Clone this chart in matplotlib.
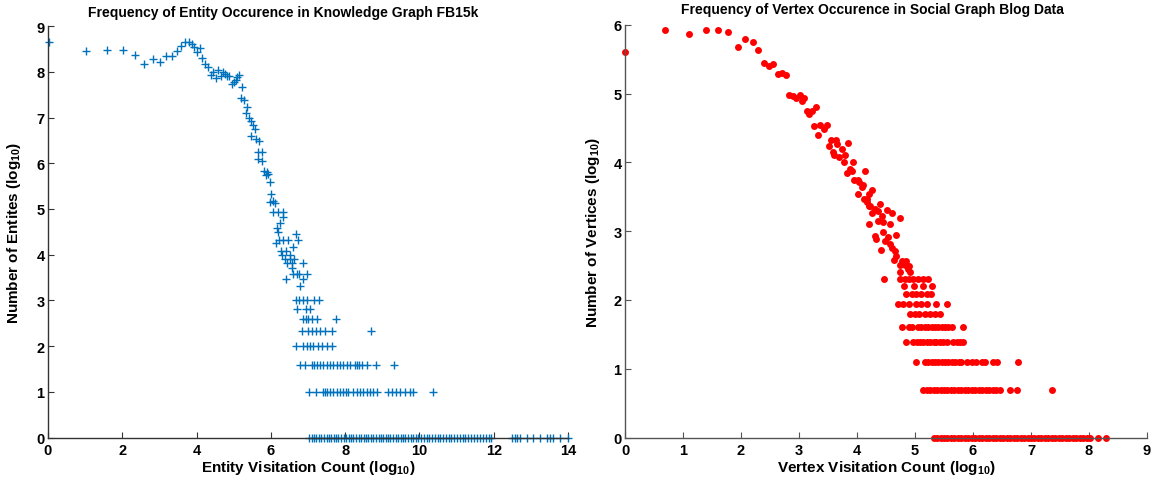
import matplotlib
matplotlib.use("Agg")
import matplotlib.pyplot as plt

plt.rcParams['font.family'] = ['Liberation Sans', 'DejaVu Sans']
plt.rcParams['font.weight'] = 'bold'
plt.rcParams['mathtext.fontset'] = 'custom'
plt.rcParams['mathtext.bf'] = 'Liberation Sans:bold'
plt.rcParams['mathtext.rm'] = 'Liberation Sans:bold'
plt.rcParams['mathtext.default'] = 'bf'

# ---------------- Left chart: FB15k (entities) ----------------
left_title = "Frequency of Entity Occurence in Knowledge Graph FB15k"
left_xlabel = r"Entity Visitation Count (log$_{10}$)"
left_ylabel = r"Number of Entites (log$_{10}$)"
left_xticks = [0, 2, 4, 6, 8, 10, 12, 14]
left_yticks = [0, 1, 2, 3, 4, 5, 6, 7, 8, 9]

# head of the distribution (distinct counts)
ent_curve_x = [0.03, 1.01, 1.60, 2.01, 2.33, 2.59, 2.82, 3.02, 3.17, 3.33, 3.46, 3.59, 3.70,
               3.79, 3.87, 3.94, 4.02, 4.10, 4.15, 4.24, 4.30, 4.38, 4.43, 4.52, 4.59, 4.66,
               4.70, 4.77, 4.81, 4.88, 4.95, 5.01, 5.05, 5.10, 5.15, 5.21, 5.20, 5.28, 5.37,
               5.32, 5.40, 5.46, 5.51, 5.57, 5.47, 5.60, 5.68, 5.66, 5.75, 5.66, 5.75, 5.82,
               5.89, 5.93, 5.87, 5.98, 6.00, 6.05, 5.98, 6.11, 6.07, 6.20, 6.34,
               6.32, 6.25, 6.16, 6.18, 6.68, 6.23, 6.34, 6.47, 6.14, 6.74, 6.60, 6.27, 6.42,
               6.29, 6.52, 6.38, 6.52, 6.61, 6.44, 6.58, 6.86, 6.56, 6.60, 6.70, 6.77, 6.97,
               6.41, 6.87, 6.79]
ent_curve_y = [8.65, 8.46, 8.47, 8.47, 8.38, 8.17, 8.29, 8.21, 8.34, 8.34, 8.45, 8.57, 8.66,
               8.65, 8.60, 8.54, 8.43, 8.52, 8.30, 8.17, 8.10, 7.94, 7.99, 7.87, 8.04, 7.90,
               7.99, 7.95, 7.91, 7.91, 7.74, 7.77, 7.83, 7.88, 7.94, 7.68, 7.43, 7.39, 7.24,
               7.09, 6.99, 6.93, 6.84, 6.75, 6.60, 6.53, 6.48, 6.25, 6.24, 6.09, 6.06, 5.84,
               5.82, 5.77, 5.74, 5.58, 5.33, 5.18, 5.16, 5.13, 4.93, 4.94, 4.94,
               4.82, 4.70, 4.58, 4.50, 4.46, 4.32, 4.32, 4.32, 4.25, 4.32, 4.17, 4.09, 4.09,
               4.00, 4.00, 3.91, 3.91, 3.91, 3.81, 3.81, 3.81, 3.70, 3.58, 3.58, 3.58, 3.58,
               3.46, 3.46, 3.32]

# tail rows (small integer counts)
ent_row8_x = [6.68, 6.77, 6.87, 6.96, 7.16, 7.30]
ent_row7_x = [6.71, 6.95, 7.05]
ent_row6_x = [6.87, 6.95, 7.01, 7.10, 7.25, 7.75]
ent_row5_x = [6.83, 7.01, 7.10, 7.22, 7.32, 7.46, 7.64, 8.70]
ent_row4_x = [6.68, 6.87, 6.96, 7.05, 7.14, 7.28, 7.37, 7.52, 7.64]
ent_row3_x = [6.79, 6.92, 7.10, 7.16, 7.23, 7.32, 7.41, 7.52, 7.59, 7.68, 7.77, 7.86, 7.95,
              8.04, 8.13, 8.27, 8.33, 8.38, 8.45, 8.58, 8.82, 9.32]
ent_row2_x = [7.03, 7.22, 7.41, 7.46, 7.52, 7.59, 7.68, 7.77, 7.86, 7.95, 8.02, 8.09, 8.22,
              8.31, 8.40, 8.49, 8.58, 8.67, 8.76, 8.85, 9.16, 9.25, 9.37, 9.48, 9.61, 9.75,
              9.84, 10.37]
ent_row1_x = [7.03, 7.10, 7.16, 7.22, 7.30, 7.36, 7.42, 7.50, 7.56, 7.62, 7.70, 7.76, 7.82,
              7.90, 7.96, 8.02, 8.10, 8.16, 8.22, 8.30, 8.36, 8.42, 8.50, 8.56, 8.62, 8.70,
              8.76, 8.82, 8.90, 8.96, 9.02, 9.10, 9.16, 9.22, 9.30, 9.36, 9.42, 9.50, 9.56,
              9.62, 9.70, 9.76, 9.82, 9.90, 9.96, 10.04, 10.12, 10.20, 10.26, 10.34, 10.42,
              10.50, 10.56, 10.64, 10.72, 10.80, 10.86, 10.94, 11.02, 11.10, 11.16, 11.24,
              11.32, 11.40, 11.48, 11.55, 11.63, 11.70, 11.78, 11.86, 11.94, 12.48, 12.57,
              12.62, 12.71, 12.89, 13.07, 13.25, 13.43, 13.51, 13.60, 13.79, 14.01]
ent_row_levels = [3.0, 2.807, 2.585, 2.322, 2.0, 1.585, 1.0, 0.0]

# ---------------- Right chart: Blog data (vertices) ----------------
right_title = "Frequency of Vertex Occurence in Social Graph Blog Data"
right_xlabel = r"Vertex Visitation Count (log$_{10}$)"
right_ylabel = r"Number of Vertices (log$_{10}$)"
right_xticks = [0, 1, 2, 3, 4, 5, 6, 7, 8, 9]
right_yticks = [0, 1, 2, 3, 4, 5, 6]

vtx_curve_x = [0.00, 0.69, 1.10, 1.39, 1.60, 1.78, 1.94, 2.07, 2.20, 2.30, 2.40, 2.48, 2.56,
               2.64, 2.70, 2.77, 2.83, 2.90, 2.95, 3.01, 3.05, 3.09, 3.13, 3.18, 3.22, 3.29,
               3.26, 3.33, 3.37, 3.43, 3.49, 3.55, 3.64, 3.52, 3.59, 3.65, 3.60, 3.69, 3.74,
               3.79, 3.84, 3.78, 3.93, 3.82, 3.88, 3.91, 3.95, 4.01, 4.04, 4.02, 4.08, 4.11,
               4.14, 4.12, 4.17, 4.20, 4.21, 4.25, 4.17, 4.40, 4.22, 4.31, 4.25, 4.37, 4.51,
               4.60, 4.74, 4.21, 4.37, 4.45, 4.57, 4.43, 4.31, 4.33, 4.45, 4.54, 4.67, 4.48,
               4.57, 4.61, 4.66, 4.41, 4.68, 4.64, 4.77, 4.85, 4.74, 4.82, 4.90, 4.88, 4.74,
               4.91, 4.47]
vtx_curve_y = [5.61, 5.93, 5.87, 5.92, 5.92, 5.89, 5.67, 5.79, 5.75, 5.63, 5.44, 5.40, 5.43,
               5.28, 5.30, 5.27, 4.98, 4.97, 4.93, 4.98, 4.89, 4.94, 4.75, 4.70, 4.74, 4.80,
               4.53, 4.39, 4.54, 4.48, 4.54, 4.32, 4.32, 4.23, 4.15, 4.27, 4.10, 4.07, 4.19,
               4.11, 4.28, 4.00, 4.00, 3.84, 3.90, 3.88, 3.75, 3.75, 3.71, 3.54, 3.64, 3.67,
               3.88, 3.47, 3.46, 3.54, 3.37, 3.60, 3.43, 3.40, 3.37, 3.32, 3.27, 3.29, 3.31,
               3.26, 3.19, 3.11, 3.14, 3.13, 3.10, 3.22, 2.93, 2.89, 2.98, 2.91, 2.94, 2.86,
               2.81, 2.76, 2.71, 2.72, 2.64, 2.58, 2.57, 2.57, 2.51, 2.51, 2.49, 2.45, 2.40,
               2.40, 2.30]

vtx_row10_x = [4.74, 4.83, 4.89, 4.97, 5.06, 5.14, 5.23]
vtx_row9_x = [4.81, 4.99, 5.14, 5.30]
vtx_row8_x = [4.85, 4.94, 5.02, 5.11, 5.20, 5.27]
vtx_row7_x = [4.71, 4.80, 4.90, 5.02, 5.11, 5.20, 5.37, 5.56]
vtx_row6_x = [4.91, 5.00, 5.07, 5.17, 5.25, 5.34, 5.43]
vtx_row5_x = [4.77, 4.89, 4.94, 5.06, 5.11, 5.17, 5.23, 5.29, 5.34, 5.40, 5.46, 5.52, 5.57,
              5.63, 5.82]
vtx_row4_x = [4.84, 4.97, 5.03, 5.09, 5.14, 5.20, 5.26, 5.32, 5.37, 5.43, 5.49, 5.55, 5.66,
              5.72, 5.78, 5.83]
vtx_row3_x = [5.02, 5.17, 5.23, 5.29, 5.34, 5.40, 5.46, 5.52, 5.57, 5.63, 5.69, 5.75, 5.80,
              5.89, 5.98, 6.06, 6.15, 6.21, 6.35, 6.42, 6.78]
vtx_row2_x = [5.14, 5.20, 5.26, 5.32, 5.38, 5.44, 5.50, 5.56, 5.62, 5.68, 5.74, 5.80, 5.86,
              5.92, 5.98, 6.04, 6.10, 6.16, 6.22, 6.28, 6.34, 6.40, 6.47, 6.63, 6.76, 7.37]
vtx_row1_x = [5.32, 5.38, 5.44, 5.50, 5.56, 5.62, 5.68, 5.74, 5.80, 5.86, 5.92, 5.98, 6.04,
              6.10, 6.16, 6.22, 6.28, 6.34, 6.40, 6.46, 6.52, 6.58, 6.64, 6.70, 6.76, 6.82,
              6.88, 6.94, 7.00, 7.06, 7.12, 7.18, 7.24, 7.30, 7.36, 7.42, 7.48, 7.54, 7.60,
              7.66, 7.72, 7.78, 7.84, 7.90, 7.96, 8.02, 8.16, 8.29]
vtx_row_levels = [2.303, 2.197, 2.079, 1.946, 1.792, 1.609, 1.386, 1.099, 0.693, 0.0]

# ---------------- Drawing ----------------
W, H = 1160, 481
fig = plt.figure(figsize=(W / 100, H / 100), dpi=100)
ax1 = fig.add_axes([48 / W, (H - 438.5) / H, 520 / W, (438.5 - 27.2) / H])
ax2 = fig.add_axes([625 / W, (H - 438.5) / H, 522 / W, (438.5 - 25.7) / H])

blue = '#0072BD'
red = '#FF0000'

ent_rows = [ent_row8_x, ent_row7_x, ent_row6_x, ent_row5_x, ent_row4_x, ent_row3_x,
            ent_row2_x, ent_row1_x]
xs = list(ent_curve_x)
ys = list(ent_curve_y)
for lvl, row in zip(ent_row_levels, ent_rows):
    xs += row
    ys += [lvl] * len(row)
ax1.plot(xs, ys, linestyle='none', marker='+', color=blue, markersize=5.2,
         markeredgewidth=1.0, clip_on=False)

vtx_rows = [vtx_row10_x, vtx_row9_x, vtx_row8_x, vtx_row7_x, vtx_row6_x, vtx_row5_x,
            vtx_row4_x, vtx_row3_x, vtx_row2_x, vtx_row1_x]
xs = list(vtx_curve_x)
ys = list(vtx_curve_y)
for lvl, row in zip(vtx_row_levels, vtx_rows):
    xs += row
    ys += [lvl] * len(row)
ax2.plot(xs, ys, linestyle='none', marker='o', color=red, markersize=5.0,
         markeredgewidth=0, clip_on=False)

def style(ax, xlim, ylim, xticks, yticks, spine_col):
    ax.set_xlim(*xlim)
    ax.set_ylim(*ylim)
    ax.set_xticks(xticks)
    ax.set_yticks(yticks)
    ax.spines['top'].set_visible(False)
    ax.spines['right'].set_visible(False)
    for s in ('left', 'bottom'):
        ax.spines[s].set_color(spine_col)
        ax.spines[s].set_linewidth(1.0)
    ax.tick_params(direction='in', length=4, width=0.8, color=spine_col, labelsize=10.5)
    ax.tick_params(axis='x', pad=4)
    ax.tick_params(axis='y', pad=2.5)
    for lab in ax.get_xticklabels() + ax.get_yticklabels():
        lab.set_fontweight('bold')

style(ax1, (0, 14), (0, 9), left_xticks, left_yticks, '#333333')
style(ax2, (0, 9), (0, 6), right_xticks, right_yticks, '#555555')

ax1.set_xlabel(left_xlabel, fontsize=11, fontweight='bold')
ax1.set_ylabel(left_ylabel, fontsize=11, fontweight='bold')
ax1.xaxis.set_label_coords(0.5, -0.05)
ax1.yaxis.set_label_coords(-0.048, 0.5)

ax2.set_xlabel(right_xlabel, fontsize=11, fontweight='bold')
ax2.set_ylabel(right_ylabel, fontsize=11, fontweight='bold')
ax2.xaxis.set_label_coords(0.5, -0.05)
ax2.yaxis.set_label_coords(-0.045, 0.5)

fig.text(283 / W, 1 - 13 / H, left_title, ha='center', va='center', fontsize=10,
         fontweight='bold')
fig.text(872 / W, 1 - 10 / H, right_title, ha='center', va='center', fontsize=10,
         fontweight='bold')

fig.savefig('out.png', dpi=100)
